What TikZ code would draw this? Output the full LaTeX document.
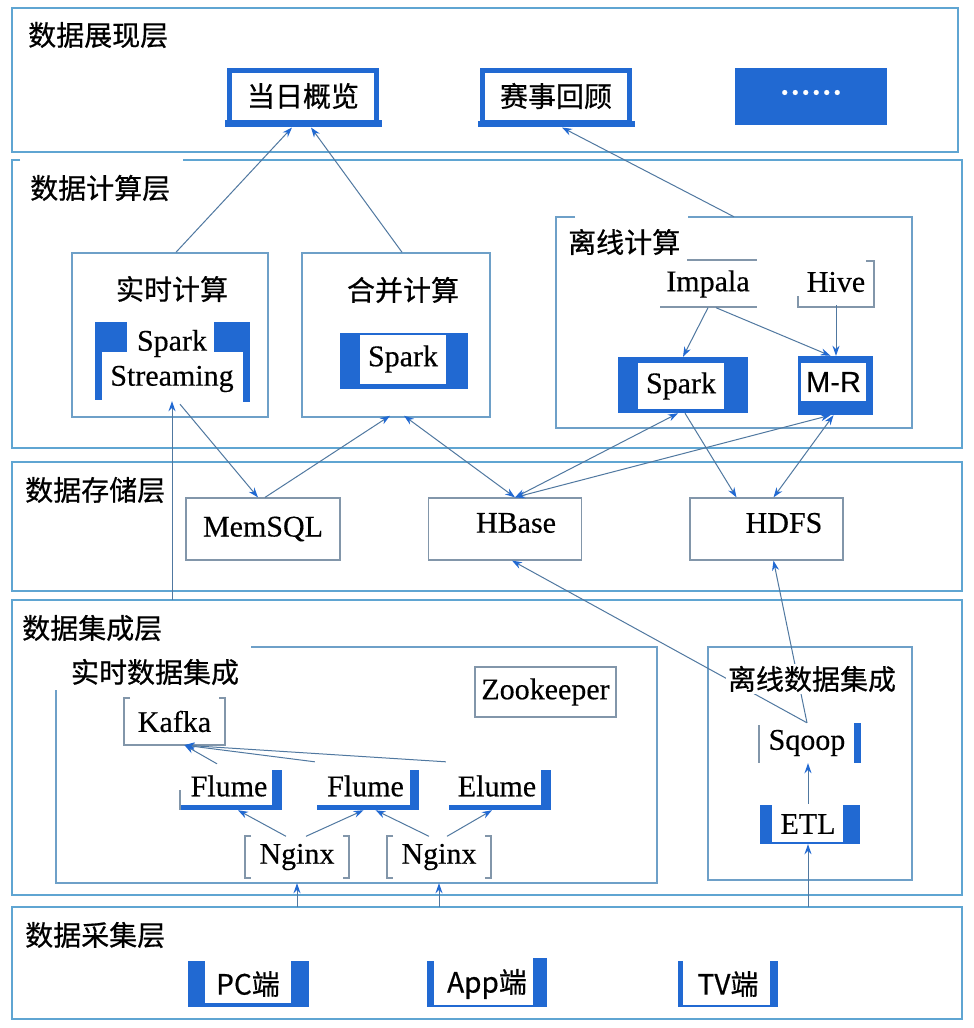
\documentclass[tikz,border=0pt]{standalone}
\usepackage{fontspec}
\setmainfont{Liberation Serif}[FakeBold=0.35]
\newfontfamily\cjk{Noto Sans CJK SC}[FakeBold=0.6]
\newfontfamily\sansf{Liberation Sans}[FakeBold=0.3]
\usetikzlibrary{arrows.meta,calc}
\definecolor{bblue}{RGB}{33,105,210}
\definecolor{layerC}{RGB}{95,165,210}
\definecolor{grpC}{RGB}{110,160,200}
\definecolor{boxC}{RGB}{130,150,170}
\definecolor{arrC}{RGB}{80,120,160}
\begin{document}
\begin{tikzpicture}[x=1pt,y=-1pt,
  zh/.style={font=\cjk\fontsize{28}{32}\selectfont, inner sep=0pt},
  en/.style={font=\fontsize{30}{34}\selectfont, inner sep=0pt},
  layer/.style={draw=layerC, line width=2pt},
  grpline/.style={draw=grpC, line width=1.5pt},
  thinbox/.style={draw=boxC, line width=1.2pt, fill=white},
  thinline/.style={draw=boxC, line width=1.2pt},
  showbox/.style={draw=bblue, line width=5pt, fill=white, minimum width=147, minimum height=52, zh},
  conn/.style={draw=arrC, line width=1pt, -{Stealth[length=10pt,width=7pt,color=bblue]}},
  conn2/.style={conn, {Stealth[length=10pt,width=7pt,color=bblue]}-{Stealth[length=10pt,width=7pt,color=bblue]}},
]
\fill[white] (0,0) rectangle (974,1028);
\useasboundingbox (0,0) rectangle (974,1028);

% ---------------- layer frames
\draw[layer] (12,8) rectangle (958,152);
\draw[layer] (20,160) -- (12,160) -- (12,448) -- (962,448) -- (962,160) -- (183,160);
\draw[layer] (12,462) rectangle (962,591);
\draw[layer] (12,600) rectangle (962,895);
\draw[layer] (12,907) rectangle (962,1019);
\coordinate (L4n) at (487,600);
\coordinate (L5n) at (487,907);

\node[zh, anchor=west] (t1) at (28,35) {数据展现层};
\node[zh, anchor=west] (t2) at (30,188) {数据计算层};
\node[zh, anchor=west] (t3) at (25,490) {数据存储层};
\node[zh, anchor=west] (t4) at (22,628) {数据集成层};
\node[zh, anchor=west] (t5) at (25,935) {数据采集层};

% ---------------- presentation layer
\node[showbox] (d1) at (303,96) {当日概览};
\fill[bblue] ($(d1.south west)+(-2.5,-5)$) rectangle ($(d1.south east)+(2.5,2.5)$);
\node[showbox] (d2) at (556,96) {赛事回顾};
\fill[bblue] ($(d2.south west)+(-2.5,-4)$) rectangle ($(d2.south east)+(2.5,2.5)$);
\node[fill=bblue, minimum width=152, minimum height=57, text=white, font=\fontsize{42}{42}\selectfont, inner sep=0pt] (d3) at (811,96) {\raisebox{0.18em}{......}};

% ---------------- computation layer
\node[grpline, minimum width=196, minimum height=164] (rt) at (170,335) {};
\node[zh] (rtT) at (172,289) {实时计算};
\node[en, align=center, font=\fontsize{30}{35}\selectfont, minimum width=154, minimum height=80] (ss) at (172,361) {Spark\\Streaming};
\fill[bblue] (95,322) rectangle (127,352);
\fill[bblue] (95,322) rectangle (102,400);
\fill[bblue] (214,322) rectangle (250,352);
\fill[bblue] (243,322) rectangle (250,402);

\node[grpline, minimum width=188, minimum height=164] (hb) at (396,335) {};
\node[zh] (hbT) at (403,290) {合并计算};
\node[fill=bblue, minimum width=128, minimum height=56, inner sep=0pt] (sp1) at (404,361) {};
\node[fill=white, en, minimum width=86, minimum height=49] (sp1T) at (403,359) {Spark};

\node[minimum width=356, minimum height=211, inner sep=0pt] (lx) at (734,322.5) {};
\draw[grpline] (575,217) -- (556,217) -- (556,428) -- (912,428) -- (912,217) -- (688,217);
\node[zh, anchor=west] (lxT) at (568,242) {离线计算};
\node[en, minimum width=97, minimum height=47] (im) at (708,284) {Impala};
\draw[thinline] (687,260) -- (757,260);
\draw[thinline] (660,307) -- (757,307);
\node[en, minimum width=76, minimum height=46] (hv) at (836,282) {Hive};
\draw[thinline] (798,296) -- (798,307) -- (874,307) -- (874,261) -- (866,261);
\node[fill=bblue, minimum width=130, minimum height=56, inner sep=0pt] (sp2) at (683,385) {};
\node[fill=white, en, minimum width=86, minimum height=46] (sp2T) at (681,386) {Spark};
\node[fill=bblue, minimum width=75, minimum height=59, inner sep=0pt] (mr) at (835.5,385.5) {};
\node[fill=white, font=\sansf\fontsize{29}{32}\selectfont, minimum width=65, minimum height=38, inner sep=0pt] (mrT) at (833.5,382) {M-R};

% ---------------- storage layer
\node[thinbox, en, minimum width=154, minimum height=62] (ms) at (263,529) {MemSQL};
\node[thinbox, minimum width=153, minimum height=62] (hbs) at (505,529) {};
\node[en] (hbsT) at (516,523) {HBase};
\node[thinbox, minimum width=153, minimum height=62] (hd) at (766.5,529) {};
\node[en] (hdT) at (784,523) {HDFS};

% ---------------- integration layer
\node[minimum width=601, minimum height=236, inner sep=0pt] (rtdi) at (356.5,765) {};
\draw[grpline] (251,647) -- (657,647) -- (657,883) -- (56,883) -- (56,690);
\node[zh] (rtdiT) at (155,672) {实时数据集成};
\node[en, minimum width=101, minimum height=47] (kf) at (174.5,721.5) {Kafka};
\draw[thinline] (130,698) -- (124,698) -- (124,745) -- (225,745) -- (225,698) -- (219,698);
\node[thinbox, en, minimum width=141, minimum height=50] (zk) at (545.5,692) {Zookeeper};

\node[en, minimum width=102, minimum height=40] (fl1) at (229,786) {Flume};
\fill[bblue] (272,770) rectangle (282,810);
\fill[bblue] (180,805) rectangle (282,810);
\draw[thinline] (180,790) -- (180,810);
\node[en, minimum width=101, minimum height=40] (fl2) at (365.5,786) {Flume};
\fill[bblue] (410,770) rectangle (419,810);
\fill[bblue] (317,805) rectangle (419,810);
\node[en, minimum width=102, minimum height=40] (el) at (497,786) {Elume};
\fill[bblue] (541,770) rectangle (551,810);
\fill[bblue] (449,805) rectangle (551,810);

\node[en, minimum width=104, minimum height=41] (ng1) at (297,857) {Nginx};
\draw[thinline] (251,836) -- (245,836) -- (245,878) -- (251,878);
\draw[thinline] (343,836) -- (349,836) -- (349,878) -- (343,878);
\node[en, minimum width=104, minimum height=41] (ng2) at (439,857) {Nginx};
\draw[thinline] (393,836) -- (387,836) -- (387,878) -- (393,878);
\draw[thinline] (485,836) -- (491,836) -- (491,878) -- (485,878);

\node[grpline, minimum width=204, minimum height=233] (lxdi) at (810,763.5) {};
\node[en, minimum width=102, minimum height=40] (sq) at (807,743) {Sqoop};
\draw[thinline] (759,725) -- (759,763);
\fill[bblue] (854,723) rectangle (861,763);
\node[en, minimum width=100, minimum height=40] (et) at (808,824) {ETL};
\fill[bblue] (760,805) rectangle (772,843);
\fill[bblue] (843,805) rectangle (860,843);
\draw[bblue, line width=1.2pt] (760,843) -- (860,843);

% ---------------- collection layer
\node[font=\cjk\fontsize{28}{32}\selectfont, inner sep=0pt, minimum width=121, minimum height=46] (pc) at (248,984) {PC端};
\fill[bblue] (188,961) rectangle (205,1007);
\fill[bblue] (291,961) rectangle (309,1007);
\fill[bblue] (188,1003) rectangle (309,1007);
\node[font=\cjk\fontsize{28}{32}\selectfont, inner sep=0pt, minimum width=120, minimum height=46] (ap) at (487,984) {App端};
\fill[bblue] (427,961) rectangle (434,1007);
\fill[bblue] (533,958) rectangle (547,1007);
\draw[bblue, line width=1.2pt] (427,1006) -- (547,1006);
\node[font=\cjk\fontsize{28}{32}\selectfont, inner sep=0pt, minimum width=100, minimum height=46] (tv) at (728,984) {TV端};
\fill[bblue] (678,961) rectangle (683,1007);
\fill[bblue] (770,961) rectangle (778,1007);
\draw[bblue, line width=1.2pt] (678,1006) -- (778,1006);

% ---------------- connectors
\draw[conn] ($(rt.north)+(6,0)$) -- ($(d1.south)+(-11,3)$);
\draw[conn] ($(hb.north)+(6,0)$) -- ($(d1.south)+(8,3)$);
\draw[conn] (lx.north) -- ($(d2.south)+(6,3)$);

\draw[conn] (ss |- L4n) -- (ss.south);
\draw[conn] ($(ss.south)+(8,3)$) -- ($(ms.north)+(-5,0)$);
\draw[conn] ($(ms.north)+(2,0)$) -- ($(hb.south)+(-6,-2)$);
\draw[conn2] ($(hbs.north)+(10,0)$) -- ($(hb.south)+(8,-2)$);
\draw[conn2] ($(hbs.north)+(10,0)$) -- ($(sp2.south)+(-5,0)$);
\draw[conn2] ($(hbs.north)+(10,0)$) -- ($(mr.south)+(-5,0)$);
\draw[conn] ($(sp2.south)+(2,0)$) -- ($(hd.north)+(-30,0)$);
\draw[conn2] ($(mr.south)+(-2,0)$) -- ($(hd.north)+(7,0)$);
\draw[conn] (im.south) -- (sp2.north);
\draw[conn] ($(im.south)+(8,0)$) -- ($(mr.north)+(-5,0)$);
\draw[conn] (hv.south) -- (hv.south |- mr.north);

\draw[conn] (sq.north) -- ($(hbs.south)+(7,0)$);
\draw[conn] (sq.north) -- ($(hd.south)+(7,0)$);
\draw[conn] (et.north) -- (et.north |- sq.south);
\draw[conn] (et |- L5n) -- (et.south);
\draw[conn] (ng1 |- L5n) -- (ng1 |- rtdi.south);
\draw[conn] (ng2 |- L5n) -- (ng2 |- rtdi.south);

\draw[conn] ($(ng1.north)+(-11,0)$) -- ($(fl1.south)+(9,4)$);
\draw[conn] ($(ng1.north)+(9,0)$) -- ($(fl2.south)+(-2,4)$);
\draw[conn] ($(ng2.north)+(-10,0)$) -- ($(fl2.south)+(10,4)$);
\draw[conn] ($(ng2.north)+(8,0)$) -- ($(el.south)+(-5,4)$);
\draw[conn] ($(fl1.north)+(-12,-2)$) -- ($(kf.south)+(10,0)$);
\draw[conn] ($(fl2.north west)+(0,-4)$) -- ($(kf.south)+(10,0)$);
\draw[conn] ($(el.north west)+(0,-4)$) -- ($(kf.south)+(10,0)$);

\node[zh, fill=white, inner sep=2pt] (lxdiT) at (812,679) {离线数据集成};
\end{tikzpicture}
\end{document}
